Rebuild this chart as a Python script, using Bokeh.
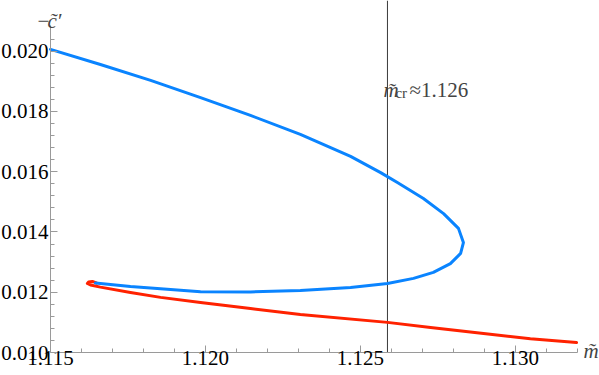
from bokeh.plotting import figure
from bokeh.models import Range1d, FixedTicker, PrintfTickFormatter, Label
from bokeh.embed import file_html
from bokeh.resources import INLINE

# ---- data ----
blue_m = [1.11500, 1.11661, 1.11823, 1.11984, 1.12145, 1.12306, 1.12468, 1.12565,
          1.12619, 1.12703, 1.12768, 1.12816, 1.12832, 1.12823, 1.12790, 1.12735,
          1.12671, 1.12587, 1.12468, 1.12306, 1.12145, 1.11984, 1.11855, 1.11758,
          1.11661, 1.11645]
blue_c = [0.02006, 0.01956, 0.01903, 0.01846, 0.01787, 0.01724, 0.01651, 0.01597,
          0.01564, 0.01511, 0.01461, 0.01412, 0.01365, 0.01329, 0.01295, 0.01266,
          0.01246, 0.01229, 0.01216, 0.01206, 0.01201, 0.01202, 0.01212, 0.01219,
          0.01229, 0.01231]
red_m = [1.11648, 1.11635, 1.11623, 1.11619, 1.11629, 1.11661, 1.11758, 1.11855,
         1.11984, 1.12145, 1.12306, 1.12587, 1.12726, 1.12897, 1.13048, 1.13197]
red_c = [0.01231, 0.01236, 0.01234, 0.01229, 0.01224, 0.01217, 0.01199, 0.01183,
         0.01166, 0.01146, 0.01126, 0.01100, 0.01083, 0.01063, 0.01046, 0.01033]
m_cr = 1.12587
m_cr_text = "\u22481.126"

x_ticks = [1.115, 1.120, 1.125, 1.130]
x_minor = [1.116, 1.117, 1.118, 1.119, 1.121, 1.122, 1.123, 1.124,
           1.126, 1.127, 1.128, 1.129, 1.131, 1.132]
y_ticks = [0.010, 0.012, 0.014, 0.016, 0.018, 0.020]
y_minor = [0.0104, 0.0108, 0.0112, 0.0116, 0.0124, 0.0128, 0.0132, 0.0136,
           0.0144, 0.0148, 0.0152, 0.0156, 0.0164, 0.0168, 0.0172, 0.0176,
           0.0184, 0.0188, 0.0192, 0.0196, 0.0204, 0.0208]

# axis origin and visible extents
x_org, x_axis_end = 1.115, 1.132
y_org, y_axis_top = 0.010, 0.02085
# full canvas ranges (frame covers the whole canvas; axes sit at fixed locations)
x_start, x_end = 1.113387, 1.132710
y_start, y_end = 0.009237, 0.021683

FONT = "Liberation Serif"
AXIS_GRAY = "#9a9a9a"

p = figure(width=599, height=375, output_backend="svg", toolbar_location=None,
           x_range=Range1d(x_start, x_end), y_range=Range1d(y_start, y_end),
           min_border=0, min_border_left=0, min_border_right=0,
           min_border_top=0, min_border_bottom=0)
p.outline_line_color = None
p.grid.visible = False
p.background_fill_color = "white"
p.border_fill_color = "white"

for ax, ticks, minor in ((p.xaxis, x_ticks, x_minor), (p.yaxis, y_ticks, y_minor)):
    ax.ticker = FixedTicker(ticks=ticks, minor_ticks=minor)
    ax.formatter = PrintfTickFormatter(format="%.3f")
    ax.axis_line_color = AXIS_GRAY
    ax.major_tick_line_color = AXIS_GRAY
    ax.minor_tick_line_color = AXIS_GRAY
    ax.major_tick_in = 7
    ax.major_tick_out = 0
    ax.minor_tick_in = 4
    ax.minor_tick_out = 0
    ax.major_label_text_font = FONT
    ax.major_label_text_font_size = "21px"
    ax.major_label_text_color = "black"

p.xaxis.fixed_location = y_org
p.yaxis.fixed_location = x_org
p.xaxis.major_label_standoff = -2
p.yaxis.major_label_standoff = 2
p.xaxis.bounds = (x_org, x_axis_end)
p.yaxis.bounds = (y_org, y_axis_top)

# vertical critical line
p.segment(x0=[m_cr], y0=[y_org], x1=[m_cr], y1=[y_end], line_color="#3a3a3a", line_width=1)

# curves
p.line(red_m, red_c, line_color="#ff2200", line_width=3, line_join="round", line_cap="round")
p.line(blue_m, blue_c, line_color="#0a84ff", line_width=3, line_join="round", line_cap="round")

# axis titles
p.add_layout(Label(x=x_org, y=y_end, x_offset=-13, y_offset=-20, text="\u2212",
                   text_font=FONT, text_font_size="21px",
                   text_baseline="alphabetic", text_align="left"))
p.add_layout(Label(x=x_org, y=y_end, x_offset=-3, y_offset=-20, text="c\u0303\u2032",
                   text_font=FONT, text_font_style="italic", text_font_size="21px",
                   text_baseline="alphabetic", text_align="left"))
p.add_layout(Label(x=x_axis_end, y=y_org, x_offset=6, y_offset=2, text="m\u0303",
                   text_font=FONT, text_font_style="italic", text_font_size="21px",
                   text_baseline="alphabetic", text_align="left"))

# annotation m_cr ~ 1.126
ann_y = 0.01870
p.add_layout(Label(x=m_cr, y=ann_y, x_offset=-4, text="m\u0303",
                   text_font=FONT, text_font_style="italic", text_font_size="21px",
                   text_baseline="alphabetic", text_align="left"))
p.add_layout(Label(x=m_cr, y=ann_y, x_offset=8, y_offset=-3, text="cr",
                   text_font=FONT, text_font_size="15px",
                   text_baseline="alphabetic", text_align="left"))
p.add_layout(Label(x=m_cr, y=ann_y, x_offset=22, text=m_cr_text,
                   text_font=FONT, text_font_size="21px",
                   text_baseline="alphabetic", text_align="left"))

open("out.html", "w").write(file_html(p, INLINE))
